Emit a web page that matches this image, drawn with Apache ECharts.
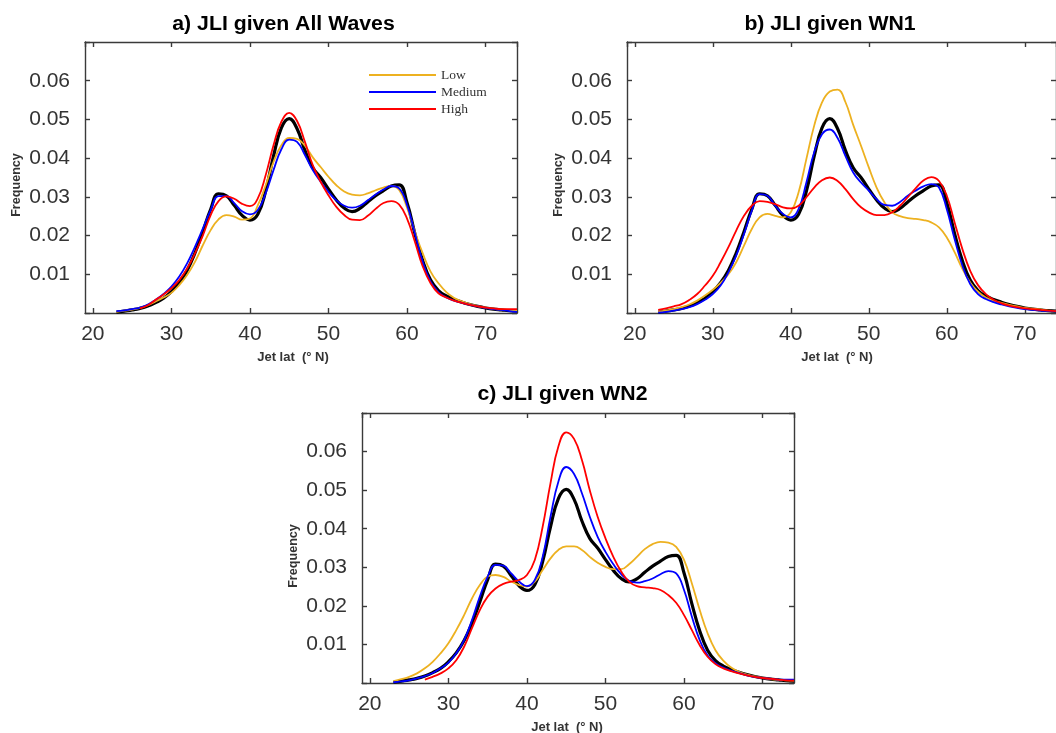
<!DOCTYPE html>
<html>
<head>
<meta charset="utf-8">
<script src="https://cdn.jsdelivr.net/npm/echarts@6/dist/echarts.min.js"></script>
<style>html,body{margin:0;padding:0;background:#fff;}#c{width:1056px;height:733px;}</style>
</head>
<body>
<div id="c"></div>
<script>
// Latitude samples (deg N)
const lat = [23,24,25,26,27,28,29,30,31,32,33,34,35,36,37,38,39,40,41,42,43,44,45,46,47,48,49,50,51,52,53,54,55,56,57,58,59,60,61,62,63,64,65,66,67,68,69,70,71,72,73,74];

const xTicks = [20,30,40,50,60,70];
const yTicks = [0.01,0.02,0.03,0.04,0.05,0.06];

// Reference (all) distribution - black
const allJLI = [0.0002,0.0005,0.0008,0.0012,0.0018,0.0027,0.0038,0.0055,0.0078,0.0110,0.0155,0.0210,0.0268,0.0308,0.0303,0.0278,0.0252,0.0240,0.0255,0.0315,0.0405,0.0478,0.0502,0.0476,0.0420,0.0375,0.0350,0.0320,0.0292,0.0271,0.0262,0.0270,0.0287,0.0303,0.0316,0.0328,0.0331,0.0285,0.0205,0.0135,0.0085,0.0058,0.0044,0.0035,0.0028,0.0022,0.0017,0.0013,0.0010,0.0008,0.0006,0.0005];

// a) All Waves
const aLow = [0.0003,0.0006,0.0009,0.0013,0.0020,0.0030,0.0040,0.0052,0.0072,0.0098,0.0132,0.0175,0.0214,0.0242,0.0253,0.0249,0.0241,0.0244,0.0278,0.0330,0.0390,0.0433,0.0452,0.0450,0.0432,0.0402,0.0377,0.0352,0.0330,0.0314,0.0306,0.0304,0.0309,0.0317,0.0324,0.0328,0.0318,0.0272,0.0210,0.0154,0.0107,0.0077,0.0054,0.0039,0.0030,0.0023,0.0018,0.0014,0.0011,0.0009,0.0008,0.0007];
const aMed = [0.0005,0.0007,0.0010,0.0014,0.0022,0.0034,0.0049,0.0068,0.0094,0.0128,0.0171,0.0218,0.0266,0.0302,0.0302,0.0284,0.0263,0.0255,0.0266,0.0309,0.0369,0.0423,0.0448,0.0442,0.0408,0.0369,0.0339,0.0313,0.0291,0.0277,0.0272,0.0277,0.0291,0.0306,0.0319,0.0328,0.0322,0.0279,0.0206,0.0132,0.0081,0.0054,0.0040,0.0032,0.0026,0.0021,0.0017,0.0013,0.0010,0.0008,0.0005,0.0003];
const aHigh = [null,null,null,0.0012,0.0020,0.0034,0.0048,0.0064,0.0085,0.0115,0.0154,0.0200,0.0253,0.0289,0.0301,0.0295,0.0282,0.0276,0.0296,0.0356,0.0433,0.0494,0.0517,0.0496,0.0442,0.0382,0.0339,0.0304,0.0274,0.0253,0.0241,0.0240,0.0251,0.0269,0.0284,0.0289,0.0280,0.0244,0.0184,0.0120,0.0077,0.0051,0.0040,0.0032,0.0026,0.0021,0.0017,0.0014,0.0012,0.0010,0.0010,0.0010];

// b) WN1
const bLow = [0.0003,0.0006,0.0010,0.0015,0.0022,0.0032,0.0045,0.0060,0.0078,0.0100,0.0131,0.0174,0.0217,0.0247,0.0256,0.0251,0.0247,0.0260,0.0312,0.0398,0.0484,0.0544,0.0572,0.0577,0.0545,0.0486,0.0432,0.0376,0.0324,0.0286,0.0260,0.0250,0.0245,0.0243,0.0240,0.0234,0.0221,0.0195,0.0157,0.0114,0.0079,0.0055,0.0040,0.0032,0.0026,0.0021,0.0017,0.0013,0.0011,0.0009,0.0006,0.0005];
const bMed = [0.0001,0.0003,0.0006,0.0010,0.0015,0.0023,0.0034,0.0049,0.0071,0.0105,0.0148,0.0204,0.0264,0.0307,0.0303,0.0277,0.0256,0.0247,0.0269,0.0337,0.0415,0.0462,0.0474,0.0452,0.0406,0.0363,0.0337,0.0316,0.0294,0.0279,0.0277,0.0287,0.0303,0.0316,0.0327,0.0333,0.0324,0.0268,0.0191,0.0122,0.0075,0.0049,0.0036,0.0028,0.0022,0.0017,0.0013,0.0010,0.0008,0.0006,0.0005,0.0004];
const bHigh = [0.0008,0.0012,0.0017,0.0023,0.0034,0.0049,0.0071,0.0096,0.0131,0.0170,0.0213,0.0251,0.0277,0.0289,0.0287,0.0281,0.0273,0.0270,0.0277,0.0299,0.0324,0.0343,0.0350,0.0341,0.0320,0.0294,0.0273,0.0260,0.0253,0.0253,0.0260,0.0277,0.0299,0.0322,0.0342,0.0351,0.0341,0.0303,0.0234,0.0165,0.0109,0.0072,0.0049,0.0034,0.0025,0.0019,0.0015,0.0012,0.0010,0.0008,0.0006,0.0005];

// c) WN2
const cLow = [0.0005,0.0010,0.0016,0.0025,0.0038,0.0055,0.0077,0.0103,0.0137,0.0176,0.0219,0.0254,0.0276,0.0280,0.0275,0.0263,0.0254,0.0250,0.0263,0.0293,0.0323,0.0345,0.0354,0.0354,0.0345,0.0327,0.0312,0.0301,0.0295,0.0295,0.0308,0.0327,0.0347,0.0360,0.0366,0.0364,0.0353,0.0319,0.0258,0.0189,0.0129,0.0085,0.0058,0.0040,0.0029,0.0022,0.0017,0.0013,0.0010,0.0008,0.0007,0.0006];
const cMed = [0.0002,0.0004,0.0007,0.0012,0.0018,0.0026,0.0038,0.0053,0.0077,0.0111,0.0163,0.0224,0.0276,0.0306,0.0304,0.0284,0.0263,0.0251,0.0267,0.0327,0.0431,0.0522,0.0560,0.0542,0.0492,0.0431,0.0379,0.0340,0.0308,0.0282,0.0265,0.0260,0.0264,0.0271,0.0282,0.0290,0.0284,0.0241,0.0172,0.0111,0.0071,0.0051,0.0040,0.0032,0.0026,0.0020,0.0016,0.0013,0.0011,0.0009,0.0009,0.0009];
const cHigh = [null,null,null,null,0.0009,0.0016,0.0025,0.0038,0.0059,0.0094,0.0142,0.0189,0.0224,0.0245,0.0257,0.0263,0.0267,0.0280,0.0319,0.0405,0.0518,0.0613,0.0650,0.0633,0.0578,0.0500,0.0431,0.0375,0.0327,0.0289,0.0263,0.0251,0.0248,0.0246,0.0241,0.0228,0.0208,0.0176,0.0137,0.0098,0.0068,0.0049,0.0038,0.0031,0.0025,0.0020,0.0016,0.0013,0.0011,0.0009,0.0007,0.0006];

const titles = ['a) JLI given All Waves', 'b) JLI given WN1', 'c) JLI given WN2'];
const seriesNames = ['Low', 'Medium', 'High'];
const panels = [[aLow, aMed, aHigh], [bLow, bMed, bHigh], [cLow, cMed, cHigh]];

const COLORS = {Low: '#EDB120', Medium: '#0000FF', High: '#FF0000'};
const AXC = '#3a3a3a';
const grids = [
  {left: 85, top: 42, width: 432, height: 271},
  {left: 627, top: 42, width: 432, height: 271},
  {left: 362, top: 413, width: 432, height: 270}
];

function pairs(vals) {
  const out = [];
  for (let i = 0; i < lat.length; i++) if (vals[i] != null) out.push([lat[i], vals[i]]);
  return out;
}

const xAxis = [], yAxis = [], series = [];
grids.forEach((g, i) => {
  const lineStyle = {color: AXC, width: 1.4};
  xAxis.push({
    type: 'value', gridIndex: i, min: 19, max: 74, splitNumber: 5, position: 'bottom',
    axisLine: {show: true, onZero: false, lineStyle},
    axisTick: {show: true, inside: true, length: 5, lineStyle},
    splitLine: {show: false},
    axisLabel: {color: '#333', fontSize: 21, fontFamily: 'Liberation Sans', margin: 11,
      showMinLabel: false, showMaxLabel: false,
      formatter: v => xTicks.indexOf(Math.round(v)) >= 0 && Math.abs(v - Math.round(v)) < 1e-6 ? String(Math.round(v)) : ''}
  });
  xAxis.push({
    type: 'value', gridIndex: i, min: 19, max: 74, splitNumber: 5, position: 'top',
    axisLine: {show: true, onZero: false, lineStyle},
    axisTick: {show: true, inside: true, length: 5, lineStyle},
    splitLine: {show: false}, axisLabel: {show: false}
  });
  yAxis.push({
    type: 'value', gridIndex: i, min: 0, max: 0.07, splitNumber: 7, position: 'left',
    axisLine: {show: true, onZero: false, lineStyle},
    axisTick: {show: true, inside: true, length: 5, lineStyle},
    splitLine: {show: false},
    axisLabel: {color: '#333', fontSize: 21, fontFamily: 'Liberation Sans', margin: 15,
      formatter: v => {
        const m = yTicks.find(t => Math.abs(t - v) < 1e-9);
        return m ? m.toFixed(2) : '';
      }}
  });
  yAxis.push({
    type: 'value', gridIndex: i, min: 0, max: 0.07, splitNumber: 7, position: 'right',
    axisLine: {show: true, onZero: false, lineStyle},
    axisTick: {show: true, inside: true, length: 5, lineStyle},
    splitLine: {show: false}, axisLabel: {show: false}
  });
  series.push({
    type: 'line', name: 'All', xAxisIndex: 2 * i, yAxisIndex: 2 * i,
    data: pairs(allJLI), smooth: 0.45, symbol: 'none', z: 2,
    lineStyle: {color: '#000', width: 3.2}, itemStyle: {color: '#000'}
  });
  panels[i].forEach((vals, k) => {
    const nm = seriesNames[k];
    series.push({
      type: 'line', name: nm, xAxisIndex: 2 * i, yAxisIndex: 2 * i,
      data: pairs(vals), smooth: 0.45, symbol: 'none', z: 3,
      lineStyle: {color: COLORS[nm], width: 1.8}, itemStyle: {color: COLORS[nm]}
    });
  });
});

const labelFont = 'bold 13px "Liberation Sans"';
const titleFont = 'bold 19.5px "Liberation Sans"';
const TS = 1.09;
const graphic = [
  {type: 'text', x: 283.5, y: 25, scaleX: TS, style: {text: titles[0], font: titleFont, fill: '#000', align: 'center', verticalAlign: 'middle'}},
  {type: 'text', x: 830, y: 25, scaleX: TS, style: {text: titles[1], font: titleFont, fill: '#000', align: 'center', verticalAlign: 'middle'}},
  {type: 'text', x: 562.5, y: 395, scaleX: TS, style: {text: titles[2], font: titleFont, fill: '#000', align: 'center', verticalAlign: 'middle'}},
  {type: 'text', x: 293, y: 357, style: {text: 'Jet lat  (° N)', font: labelFont, fill: '#333', align: 'center', verticalAlign: 'middle'}},
  {type: 'text', x: 837, y: 357, style: {text: 'Jet lat  (° N)', font: labelFont, fill: '#333', align: 'center', verticalAlign: 'middle'}},
  {type: 'text', x: 567, y: 727, style: {text: 'Jet lat  (° N)', font: labelFont, fill: '#333', align: 'center', verticalAlign: 'middle'}},
  {type: 'text', x: 17, y: 185, rotation: Math.PI / 2, style: {text: 'Frequency', font: 'bold 12.6px "Liberation Sans"', fill: '#333', align: 'center', verticalAlign: 'middle'}},
  {type: 'text', x: 559, y: 185, rotation: Math.PI / 2, style: {text: 'Frequency', font: 'bold 12.6px "Liberation Sans"', fill: '#333', align: 'center', verticalAlign: 'middle'}},
  {type: 'text', x: 294, y: 556, rotation: Math.PI / 2, style: {text: 'Frequency', font: 'bold 12.6px "Liberation Sans"', fill: '#333', align: 'center', verticalAlign: 'middle'}}
];

const chart = echarts.init(document.getElementById('c'), null, {renderer: 'canvas'});
chart.setOption({
  backgroundColor: '#fff',
  animation: false,
  grid: grids.map(g => Object.assign({containLabel: false}, g)),
  xAxis, yAxis, series, graphic,
  legend: {
    data: seriesNames, left: 369, top: 68, orient: 'vertical', selectedMode: false, padding: 0,
    icon: 'rect', itemWidth: 67, itemHeight: 2, itemGap: 3,
    textStyle: {fontFamily: 'Liberation Serif', fontSize: 13.5, color: '#333', lineHeight: 14}
  }
});
</script>
</body>
</html>
